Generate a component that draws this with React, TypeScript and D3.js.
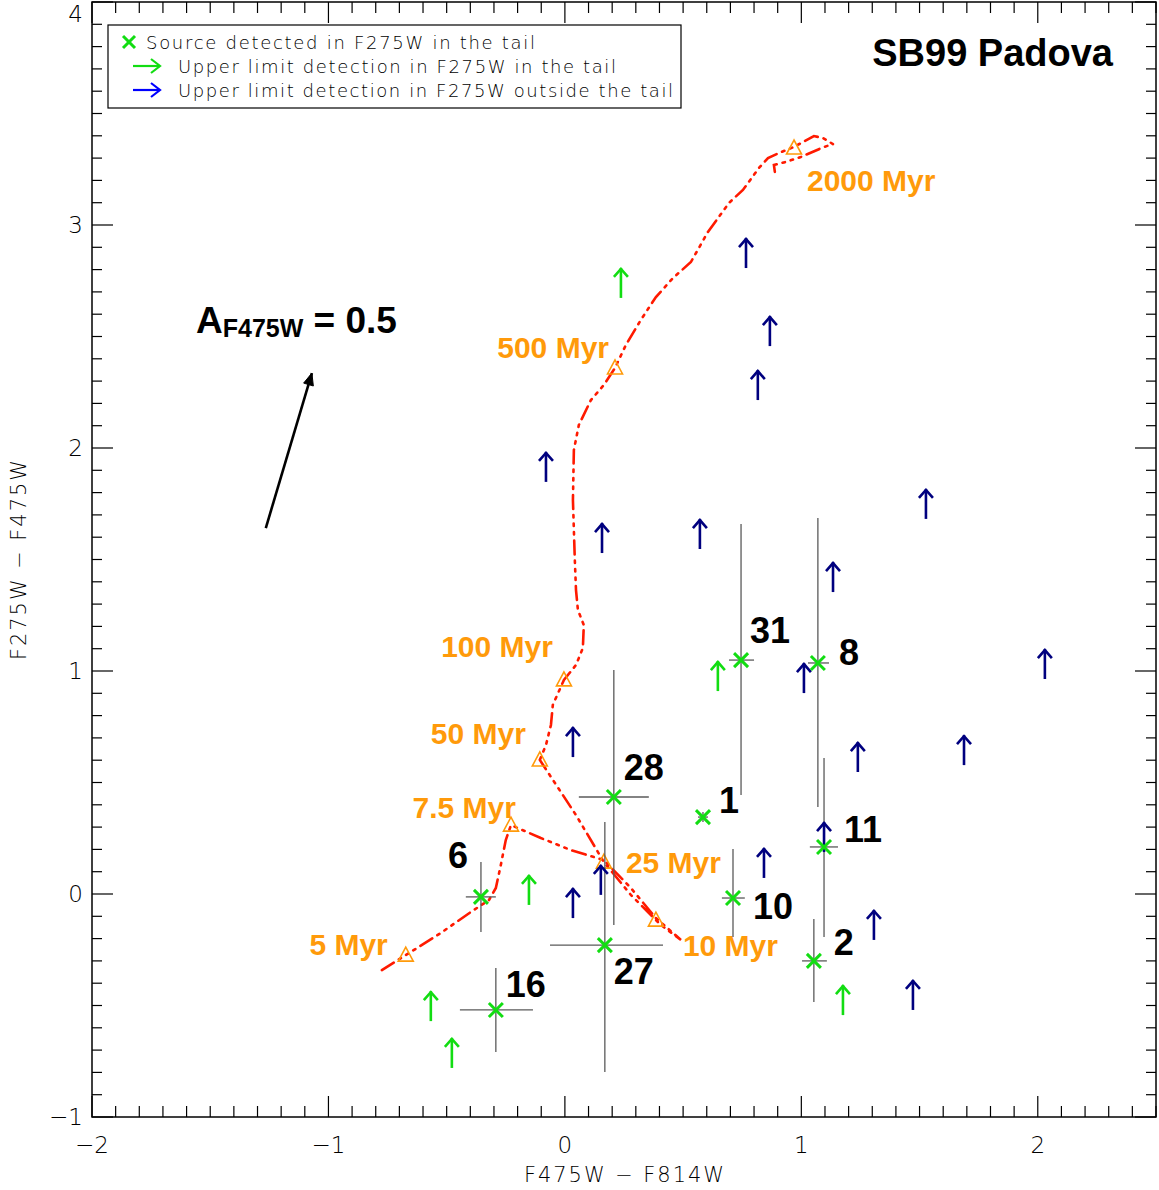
import React from 'react';
import * as d3 from 'd3';

// ---------- data ----------
const xMajorTicks = [-2, -1, 0, 1, 2];
const yMajorTicks = [-1, 0, 1, 2, 3, 4];
const xTickLabels = ['\u22122', '\u22121', '0', '1', '2'];
const yTickLabels = ['\u22121', '0', '1', '2', '3', '4'];

// SB99 Padova track (F475W-F814W, F275W-F475W)
const trackX = [-0.774, -0.673, -0.525, -0.398, -0.321, -0.292, -0.271, -0.25, -0.228, -0.102, 0.025, 0.165, 0.279, 0.385, 0.491, 0.406, 0.279, 0.165, 0.047, -0.106, -0.08, -0.059, -0.051, -0.004, 0.047, 0.076, 0.08, 0.055, 0.047, 0.042, 0.034, 0.038, 0.059, 0.11, 0.165, 0.212, 0.258, 0.321, 0.385, 0.457, 0.533, 0.605, 0.651, 0.694, 0.753, 0.821, 0.859, 0.914, 0.969, 1.053, 1.091, 1.134, 1.096, 0.998, 0.935, 0.884, 0.888];
const trackY = [-0.341, -0.274, -0.175, -0.081, -0.027, 0.027, 0.13, 0.242, 0.309, 0.251, 0.197, 0.152, 0.027, -0.108, -0.206, -0.139, -0.004, 0.143, 0.354, 0.601, 0.668, 0.758, 0.848, 0.96, 1.027, 1.103, 1.206, 1.274, 1.363, 1.498, 1.767, 1.991, 2.103, 2.215, 2.283, 2.359, 2.462, 2.574, 2.677, 2.762, 2.834, 2.969, 3.036, 3.099, 3.157, 3.256, 3.3, 3.327, 3.35, 3.399, 3.39, 3.363, 3.35, 3.305, 3.283, 3.269, 3.238];

const ageLabels = ['5 Myr', '7.5 Myr', '10 Myr', '25 Myr', '50 Myr', '100 Myr', '500 Myr', '2000 Myr'];
const ageX = [-0.673, -0.228, 0.385, 0.165, -0.106, -0.004, 0.212, 0.969];
const ageY = [-0.274, 0.309, -0.117, 0.143, 0.601, 0.96, 2.359, 3.345];

// detected sources with error bars
const srcNames = ['31', '8', '28', '1', '11', '10', '2', '6', '27', '16'];
const srcX = [0.745, 1.07, 0.207, 0.584, 1.096, 0.711, 1.053, -0.355, 0.169, -0.292];
const srcY = [1.049, 1.036, 0.435, 0.345, 0.211, -0.018, -0.3, -0.013, -0.229, -0.52];
const srcXLo = [0.694, 1.028, 0.059, 0.563, 1.036, 0.664, 1.003, -0.419, -0.063, -0.444];
const srcXHi = [0.8, 1.117, 0.355, 0.605, 1.155, 0.761, 1.108, -0.292, 0.415, -0.135];
const srcYLo = [0.444, 0.39, -0.139, 0.323, -0.193, -0.193, -0.484, -0.17, -0.798, -0.709];
const srcYHi = [1.659, 1.686, 1.004, 0.368, 0.61, 0.202, -0.112, 0.143, 0.323, -0.332];

// upper limits in F275W, in the tail (green)
const tailLimX = [0.237, 0.647, -0.152, -0.567, -0.478, 1.176];
const tailLimY = [2.673, 0.91, -0.049, -0.57, -0.78, -0.543];

// upper limits in F275W, outside the tail (navy)
const outLimX = [0.766, 0.867, 0.816, -0.08, 0.157, 0.571, 1.527, 1.134, 1.011, 2.03, 0.034, 1.239, 1.688, 1.096, 0.842, 0.152, 0.034, 1.307, 1.472];
const outLimY = [2.807, 2.457, 2.215, 1.848, 1.529, 1.547, 1.682, 1.354, 0.901, 0.964, 0.614, 0.547, 0.578, 0.188, 0.072, -0.004, -0.108, -0.206, -0.52];

// extinction vector A_F475W = 0.5
const extX = [-1.265, -1.07];
const extY = [1.641, 2.336];

const legendItems = [
  'Source detected in F275W in the tail',
  'Upper limit detection in F275W in the tail',
  'Upper limit detection in F275W outside the tail',
];

// ---------- layout / style ----------
const W = 1159, H = 1190;
const L = 92, R = 1156, T = 2, B = 1117;
const ORANGE = '#ff9a0a';
const GREEN = '#12dd12';
const NAVY = '#00007f';
const THIN = "'DejaVu Sans', sans-serif";
const BOLD = "'Liberation Sans', Arial, Helvetica, sans-serif";

const srcLabelOffsets: Record<string, [number, number]> = {
  '31': [9, -17], '8': [21, 2], '28': [10, -17], '1': [16, -4], '11': [20, -5],
  '10': [20, 21], '2': [20, -6], '6': [-33, -29], '27': [9, 39], '16': [10, -13],
};
const ageLabelLayout: [string, number, number][] = [
  ['end', -18, 0], ['end', 5, -7], ['start', 27, 36], ['start', 22, 11],
  ['end', -14, -16], ['end', -11, -23], ['end', -6, -10], ['start', 13, 43],
];

function UpArrow({ x, y, color, len = 30 }: { x: number; y: number; color: string; len?: number }) {
  const tip = y - len;
  return (
    <g stroke={color} strokeWidth={2.6} fill="none" strokeLinecap="butt">
      <line x1={x} y1={y} x2={x} y2={tip} />
      <polyline points={`${x - 7},${tip + 9} ${x},${tip + 1} ${x + 7},${tip + 9}`} />
    </g>
  );
}

function XMark({ x, y, s = 7, color = GREEN }: { x: number; y: number; s?: number; color?: string }) {
  return (
    <g stroke={color} strokeWidth={3}>
      <line x1={x - s} y1={y - s} x2={x + s} y2={y + s} />
      <line x1={x - s} y1={y + s} x2={x + s} y2={y - s} />
    </g>
  );
}

export default function App() {
  const x = d3.scaleLinear().domain([-2, 2.5]).range([L, R]);
  const y = d3.scaleLinear().domain([-1, 4]).range([B, T]);

  const xMinor = d3.range(-20, 26).map((v) => v / 10).filter((v) => !xMajorTicks.some((m) => Math.abs(m - v) < 1e-6));
  const yMinor = d3.range(-10, 41).map((v) => v / 10).filter((v) => !yMajorTicks.some((m) => Math.abs(m - v) < 1e-6));

  const line = d3.line<number>().x((_, i) => x(trackX[i])).y((_, i) => y(trackY[i]));
  const trackPath = line(trackX) || '';

  // extinction arrow geometry
  const ex0 = x(extX[0]), ey0 = y(extY[0]), ex1 = x(extX[1]), ey1 = y(extY[1]);
  const ang = Math.atan2(ey1 - ey0, ex1 - ex0);
  const hl = 13, hw = 0.4;
  const h1 = [ex1 - hl * Math.cos(ang - hw), ey1 - hl * Math.sin(ang - hw)];
  const h2 = [ex1 - hl * Math.cos(ang + hw), ey1 - hl * Math.sin(ang + hw)];

  return (
    <svg width={W} height={H} style={{ position: 'absolute', left: 0, top: 0, background: '#fff' }}>
      <rect x={0} y={0} width={W} height={H} fill="#fff" />

      {/* track */}
      <path d={trackPath} fill="none" stroke="#ff1a00" strokeWidth={2.6} strokeDasharray="14,6,2.5,6,2.5,6,2.5,6" strokeLinecap="round" />

      {/* age triangles */}
      {ageX.map((ax, i) => {
        const px = x(ax), py = y(ageY[i]);
        return (
          <polygon key={'t' + i} points={`${px},${py - 8} ${px - 7.5},${py + 6} ${px + 7.5},${py + 6}`} fill="none" stroke={ORANGE} strokeWidth={1.6} />
        );
      })}
      {ageLabels.map((lab, i) => {
        const [anchor, dx, dy] = ageLabelLayout[i];
        return (
          <text key={'al' + i} x={x(ageX[i]) + dx} y={y(ageY[i]) + dy} textAnchor={anchor as any} fontFamily={BOLD} fontWeight="bold" fontSize={30} fill={ORANGE}>
            {lab}
          </text>
        );
      })}

      {/* error bars */}
      {srcX.map((sx, i) => (
        <g key={'e' + i} stroke="#5a5a5a" strokeWidth={1.3}>
          <line x1={x(srcXLo[i])} y1={y(srcY[i])} x2={x(srcXHi[i])} y2={y(srcY[i])} />
          <line x1={x(sx)} y1={y(srcYLo[i])} x2={x(sx)} y2={y(srcYHi[i])} />
        </g>
      ))}

      {/* upper limits */}
      {outLimX.map((ox, i) => (
        <UpArrow key={'o' + i} x={x(ox)} y={y(outLimY[i])} color={NAVY} />
      ))}
      {tailLimX.map((tx, i) => (
        <UpArrow key={'g' + i} x={x(tx)} y={y(tailLimY[i])} color={GREEN} />
      ))}

      {/* detected sources */}
      {srcX.map((sx, i) => (
        <XMark key={'x' + i} x={x(sx)} y={y(srcY[i])} />
      ))}
      {srcNames.map((n, i) => {
        const [dx, dy] = srcLabelOffsets[n];
        return (
          <text key={'n' + i} x={x(srcX[i]) + dx} y={y(srcY[i]) + dy} fontFamily={BOLD} fontWeight="bold" fontSize={36} fill="#000">
            {n}
          </text>
        );
      })}

      {/* extinction vector */}
      <g stroke="#000" strokeWidth={2.6} fill="none">
        <line x1={ex0} y1={ey0} x2={ex1} y2={ey1} />
        <polygon points={`${ex1},${ey1} ${h1[0]},${h1[1]} ${h2[0]},${h2[1]}`} fill="#000" strokeWidth={1} />
      </g>
      <text x={196} y={333} fontFamily={BOLD} fontWeight="bold" fill="#000">
        <tspan fontSize={37}>A</tspan>
        <tspan fontSize={25} dy={4}>F475W</tspan>
        <tspan fontSize={37} dy={-4}> = 0.5</tspan>
      </text>

      <text x={1113} y={66} textAnchor="end" fontFamily={BOLD} fontWeight="bold" fontSize={38} fill="#000">SB99 Padova</text>

      {/* frame */}
      <rect x={L} y={T} width={R - L} height={B - T} fill="none" stroke="#000" strokeWidth={1.5} />

      {/* ticks */}
      <g stroke="#000" strokeWidth={1.2}>
        {xMajorTicks.map((v) => (
          <g key={'xM' + v}>
            <line x1={x(v)} x2={x(v)} y1={B} y2={B - 21} />
            <line x1={x(v)} x2={x(v)} y1={T} y2={T + 21} />
          </g>
        ))}
        {xMinor.map((v) => (
          <g key={'xm' + v}>
            <line x1={x(v)} x2={x(v)} y1={B} y2={B - 11} />
            <line x1={x(v)} x2={x(v)} y1={T} y2={T + 11} />
          </g>
        ))}
        {yMajorTicks.map((v) => (
          <g key={'yM' + v}>
            <line x1={L} x2={L + 21} y1={y(v)} y2={y(v)} />
            <line x1={R} x2={R - 21} y1={y(v)} y2={y(v)} />
          </g>
        ))}
        {yMinor.map((v) => (
          <g key={'ym' + v}>
            <line x1={L} x2={L + 10} y1={y(v)} y2={y(v)} />
            <line x1={R} x2={R - 10} y1={y(v)} y2={y(v)} />
          </g>
        ))}
      </g>

      {/* tick labels */}
      {xMajorTicks.map((v, i) => (
        <text key={'xl' + v} x={x(v)} y={1153} textAnchor="middle" fontFamily={THIN} fontWeight={200} fontSize={23} fill="#000">
          {xTickLabels[i]}
        </text>
      ))}
      {yMajorTicks.map((v, i) => (
        <text key={'yl' + v} x={83} y={Math.max(y(v) + 8, 22)} textAnchor="end" fontFamily={THIN} fontWeight={200} fontSize={23} fill="#000">
          {yTickLabels[i]}
        </text>
      ))}

      {/* axis titles */}
      <text x={624} y={1182} textAnchor="middle" fontFamily={THIN} fontWeight={200} fontSize={21} textLength={200} lengthAdjust="spacing" fill="#000">
        F475W {'\u2212'} F814W
      </text>
      <text transform={`translate(26,560) rotate(-90)`} textAnchor="middle" fontFamily={THIN} fontWeight={200} fontSize={21} textLength={200} lengthAdjust="spacing" fill="#000">
        F275W {'\u2212'} F475W
      </text>

      {/* legend */}
      <rect x={108} y={25} width={573} height={83} fill="#fff" stroke="#000" strokeWidth={1.2} />
      <XMark x={129} y={42} s={6} color={GREEN} />
      <g stroke={GREEN} strokeWidth={2.2} fill="none">
        <line x1={133} y1={66} x2={160} y2={66} />
        <polyline points="151,59 160,66 151,73" />
      </g>
      <g stroke="#0000ff" strokeWidth={2.2} fill="none">
        <line x1={133} y1={90} x2={160} y2={90} />
        <polyline points="151,83 160,90 151,97" />
      </g>
      <text x={146} y={49} fontFamily={THIN} fontWeight={200} fontSize={18} textLength={389} lengthAdjust="spacing" fill="#000">{legendItems[0]}</text>
      <text x={178} y={73} fontFamily={THIN} fontWeight={200} fontSize={18} textLength={438} lengthAdjust="spacing" fill="#000">{legendItems[1]}</text>
      <text x={178} y={97} fontFamily={THIN} fontWeight={200} fontSize={18} textLength={495} lengthAdjust="spacing" fill="#000">{legendItems[2]}</text>
    </svg>
  );
}
